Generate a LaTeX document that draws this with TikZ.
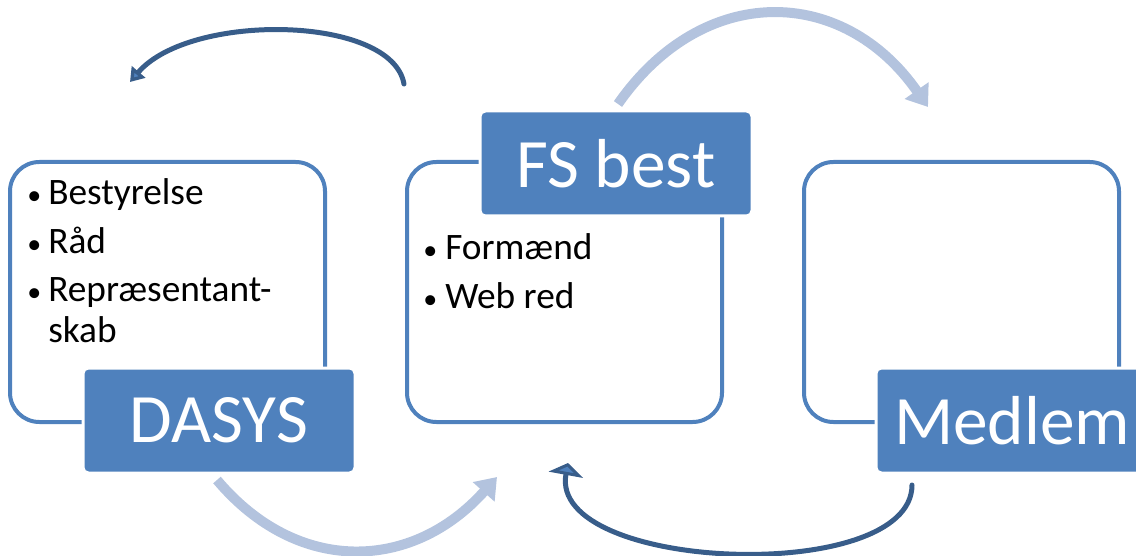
\documentclass[tikz,border=0pt]{standalone}
\usepackage{fontspec}
\usepackage{graphicx}
\setmainfont{Carlito}
\usetikzlibrary{arrows.meta}
\definecolor{boxblue}{RGB}{79,129,189}
\definecolor{arrowdark}{RGB}{56,93,138}
\definecolor{arrowlight}{RGB}{179,195,222}
\newcommand{\itemdot}{\scalebox{0.75}{\textbullet}}
\begin{document}
\begin{tikzpicture}[x=0.75pt,y=-0.75pt,
    frame/.style={draw=boxblue,line width=3pt,rounded corners=22pt,
      minimum width=236.25pt,minimum height=195pt,inner sep=0pt},
    title/.style={fill=boxblue,draw=white,line width=2.25pt,rounded corners=4pt,
      minimum width=204pt,minimum height=78.75pt,inner sep=0pt,text=white,
      font=\fontsize{52}{60}\selectfont},
    items/.style={anchor=base west,inner sep=0pt,font=\fontsize{28}{30.75}\selectfont},
    lightarrow/.style={draw=arrowlight,line width=7.5pt,-{Triangle[width=21pt,length=15pt]}},
    darkarrow/.style={draw=arrowdark,line width=3.75pt,line cap=round,
      -{Triangle[width=13pt,length=10pt,fill=boxblue]}}]
    \useasboundingbox (0,0) rectangle (1136,556);
    \clip (0,0) rectangle (1136,556);
    \coordinate (backstart) at (404,84);
    \coordinate (backend) at (130,82);
    \coordinate (fsout) at (618,104);
    \coordinate (medin) at (928,107);
    \coordinate (dasysout) at (217,480);
    \coordinate (fsin) at (497,477);
    \coordinate (medout) at (912,485);
    \coordinate (fsback) at (568,463);
    \draw[darkarrow] (backstart) .. controls (392,15) and (190,12) .. (backend);
    \draw[lightarrow] (fsout) .. controls (703,-18) and (843,-15) .. (medin);
    \draw[lightarrow] (dasysout) .. controls (297,575) and (412,572) .. (fsin);
    \draw[darkarrow,-{Triangle[width=26pt,length=9pt,fill=boxblue]}]
      (medout) .. controls (912,586) and (548,572) .. (fsback);
    \node[frame] (dasysframe) at (167.5,292) {};
    \node[frame] (fsframe) at (564.5,292) {};
    \node[frame] (medlemframe) at (961.5,292) {};
    \node[title] (dasys) at (219,420.5) {DASYS};
    \node[title] (fsbest) at (616,163.5) {FS best};
    \node[title] (medlem) at (1012,420.5) {Medlem};
    \node[items] (dasysitems) at (27,205) {\begin{tabular}[t]{@{}p{15.75pt}@{}l@{}}
      \itemdot & Bestyrelse\\[5.5pt]
      \itemdot & Råd\\[5.5pt]
      \itemdot & Repræsentant-\\
               & skab
    \end{tabular}};
    \node[items] (fsitems) at (423,260) {\begin{tabular}[t]{@{}p{16.5pt}@{}l@{}}
      \itemdot & Formænd\\[5.5pt]
      \itemdot & Web red
    \end{tabular}};
\end{tikzpicture}
\end{document}
